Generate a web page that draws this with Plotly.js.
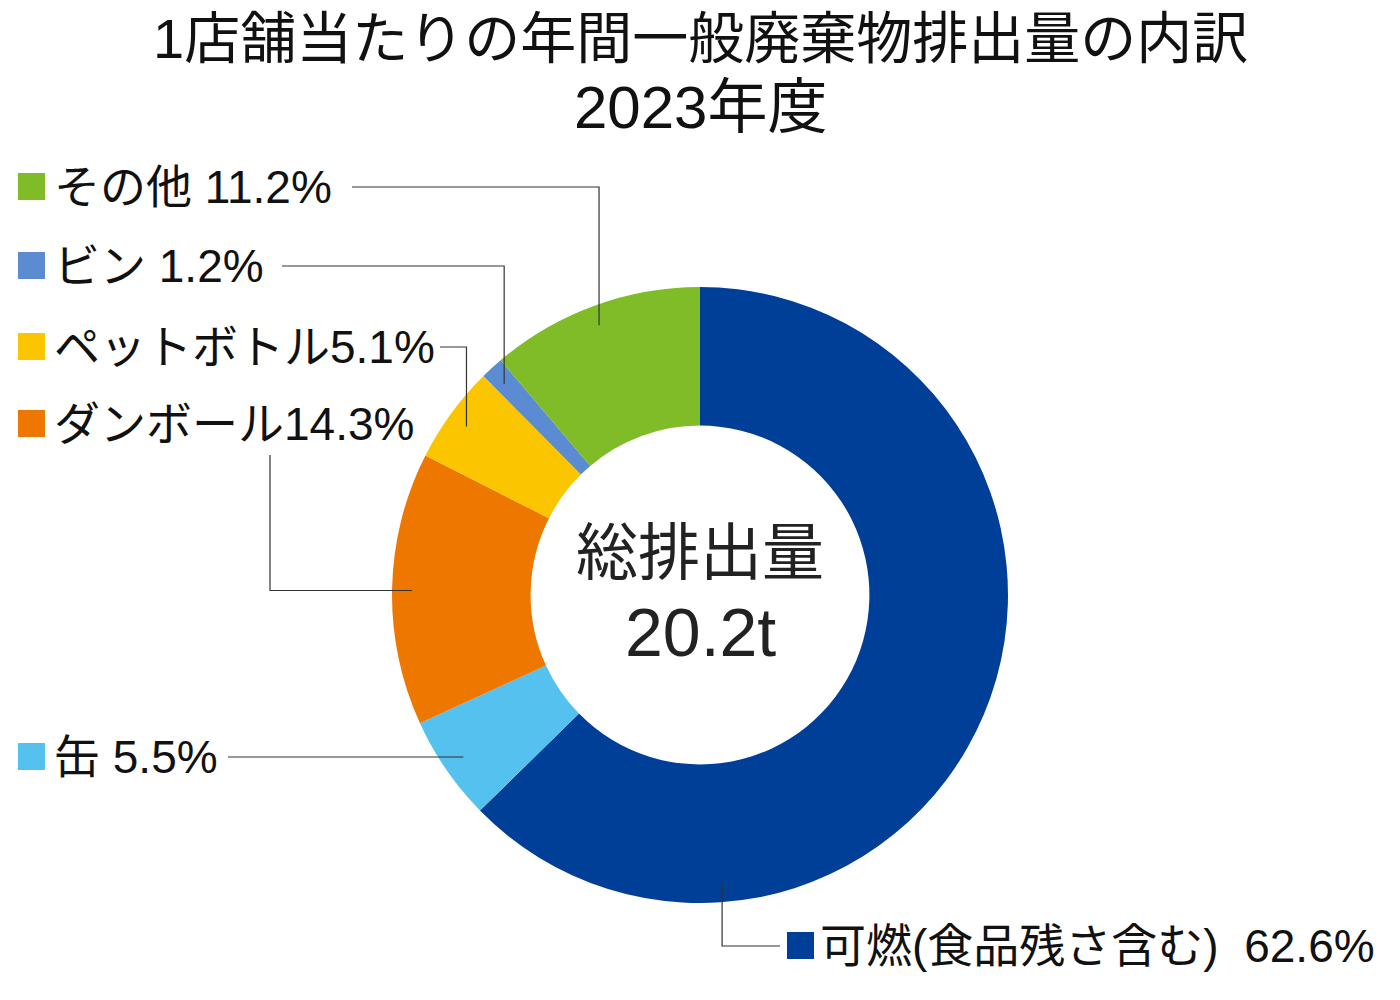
<!DOCTYPE html>
<html>
<head>
<meta charset="utf-8">
<script src="https://cdn.plot.ly/plotly-3.0.1.min.js"></script>
<style>
  body { margin: 0; background: #fff; }
  #chart { width: 1400px; height: 1000px; }
</style>
</head>
<body>
<div id="chart"></div>
<script>
// data (clockwise from 12 o'clock)
var names = ['可燃(食品残さ含む)', '缶', 'ダンボール', 'ペットボトル', 'ビン', 'その他'];
var shares = [62.6, 5.5, 14.3, 5.1, 1.2, 11.2];
var seps = ['  ', ' ', '', '', ' ', ' '];
var totalText = '20.2t';
var titleLines = ['1店舗当たりの年間一般廃棄物排出量の内訳', '2023年度'];

var colors = ['#003F98', '#55C1EF', '#EE7700', '#FBC600', '#5B8CD2', '#80BC28'];
var fontFam = 'Liberation Sans, Noto Sans CJK JP, sans-serif';

// page geometry (pixels)
var W = 1400, H = 1000;
var cx = 700, cy = 595, R = 308, holeFrac = 0.55;
var leadR = 288;
function px(x) { return x / W; }
function py(y) { return 1 - y / H; }

// label placement: text box left edge, text centre y, square left, leader style
var labelPos = [
  {sx: 787, tx: 818, ty: 946, kind: 'below', fixedAngle: 175.6, endX: 780},
  {sx: 18, tx: 52, ty: 757, kind: 'straight', startX: 228},
  {sx: 18, tx: 52, ty: 424, kind: 'drop', startX: 270, startY: 455},
  {sx: 18, tx: 52, ty: 347, kind: 'elbow', startX: 440},
  {sx: 18, tx: 52, ty: 266, kind: 'elbow', startX: 282},
  {sx: 18, tx: 52, ty: 187, kind: 'elbow', startX: 352}
];

var annotations = [];
var shapes = [];

// title
titleLines.forEach(function (t, i) {
  annotations.push({
    text: t, xref: 'paper', yref: 'paper', x: 0.5, y: py(38 + i * 70),
    xanchor: 'center', yanchor: 'middle', showarrow: false,
    font: {family: fontFam, size: i ? 60 : 56, color: '#111'}
  });
});

// centre text
annotations.push({
  text: '総排出量', xref: 'paper', yref: 'paper', x: px(cx), y: py(553),
  xanchor: 'center', yanchor: 'middle', showarrow: false,
  font: {family: fontFam, size: 62, color: '#222'}
});
annotations.push({
  text: totalText, xref: 'paper', yref: 'paper', x: px(cx), y: py(632),
  xanchor: 'center', yanchor: 'middle', showarrow: false,
  font: {family: fontFam, size: 68, color: '#222'}
});

var cum = 0;
for (var i = 0; i < names.length; i++) {
  var mid = (cum + shares[i] / 2) / 100 * 360;
  cum += shares[i];
  var p = labelPos[i];
  var ang = (p.fixedAngle !== undefined ? p.fixedAngle : mid) * Math.PI / 180;
  var ax = cx + leadR * Math.sin(ang);
  var ay = cy - leadR * Math.cos(ang);

  // legend-like square
  shapes.push({
    type: 'rect', xref: 'paper', yref: 'paper',
    x0: px(p.sx), x1: px(p.sx + 27), y0: py(p.ty - 14), y1: py(p.ty + 13),
    fillcolor: colors[i], line: {width: 0}
  });
  annotations.push({
    text: names[i] + seps[i] + shares[i].toFixed(1) + '%',
    xref: 'paper', yref: 'paper', x: px(p.tx), y: py(p.ty),
    xanchor: 'left', yanchor: 'middle', showarrow: false,
    font: {family: fontFam, size: 46, color: '#111'}
  });

  var pts;
  if (p.kind === 'elbow') pts = [[p.startX, p.ty], [ax, p.ty], [ax, ay]];
  else if (p.kind === 'drop') pts = [[p.startX, p.startY], [p.startX, ay], [ax, ay]];
  else if (p.kind === 'straight') pts = [[p.startX, p.ty], [ax, p.ty]];
  else pts = [[ax, ay], [ax, p.ty], [p.endX, p.ty]];
  var path = pts.map(function (q, k) {
    return (k ? 'L' : 'M') + px(q[0]).toFixed(5) + ',' + py(q[1]).toFixed(5);
  }).join(' ');
  shapes.push({
    type: 'path', xref: 'paper', yref: 'paper', path: path,
    line: {color: '#333', width: 1.2}
  });
}

var trace = {
  type: 'pie',
  labels: names,
  values: shares,
  sort: false,
  direction: 'clockwise',
  rotation: 0,
  hole: holeFrac,
  textinfo: 'none',
  hoverinfo: 'label+percent',
  marker: {colors: colors, line: {width: 0}},
  domain: {x: [px(cx - R), px(cx + R)], y: [py(cy + R), py(cy - R)]},
  showlegend: false
};

var layout = {
  width: W, height: H,
  margin: {l: 0, r: 0, t: 0, b: 0},
  paper_bgcolor: '#fff',
  showlegend: false,
  annotations: annotations,
  shapes: shapes
};

Plotly.newPlot('chart', [trace], layout, {displayModeBar: false});
</script>
</body>
</html>
